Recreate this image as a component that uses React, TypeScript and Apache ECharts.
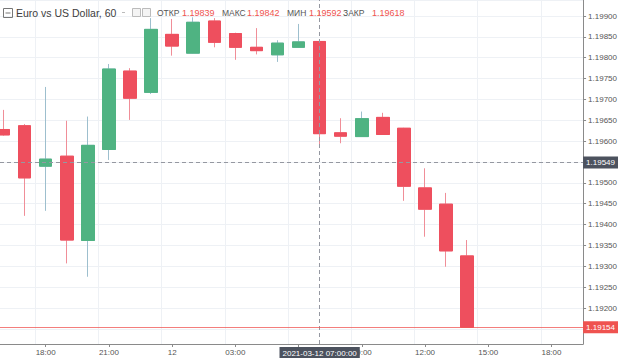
import React, { useEffect, useRef } from 'react';
import * as echarts from 'echarts';

// Hourly categories: 2021-03-11 16:00 … 2021-03-12 19:00
const times = [
  '16:00', '17:00', '18:00', '19:00', '20:00', '21:00', '22:00', '23:00',
  '00:00', '01:00', '02:00', '03:00', '04:00', '05:00', '06:00', '07:00',
  '08:00', '09:00', '10:00', '11:00', '12:00', '13:00', '14:00', '15:00',
  '16:00 ', '17:00 ', '18:00 ', '19:00 ',
];
const opens = [
  1.19628, 1.19637, 1.1954, 1.19564, 1.19362, 1.1958, 1.19768, 1.19717,
  1.19856, 1.19811, 1.19888, 1.19858, 1.19825, 1.19807, 1.19825, 1.19839,
  1.1962, 1.19611, 1.19657, 1.19631, 1.19488, 1.19449, 1.19325,
];
const closes = [
  1.19615, 1.19512, 1.19557, 1.19363, 1.1959, 1.19773, 1.19703, 1.19868,
  1.19828, 1.19885, 1.19837, 1.19825, 1.19817, 1.19835, 1.19838, 1.19618,
  1.19612, 1.19654, 1.19616, 1.19492, 1.19437, 1.19337, 1.19154,
];
const lows = [
  1.19613, 1.19421, 1.19433, 1.19307, 1.19275, 1.19555, 1.19651, 1.19713,
  1.19805, 1.1981, 1.19825, 1.19795, 1.19808, 1.1979, 1.19824, 1.19592,
  1.19595, 1.1961, 1.19615, 1.19457, 1.19371, 1.19299, 1.19154,
];
const highs = [
  1.19675, 1.19641, 1.1973, 1.19649, 1.19659, 1.19785, 1.19775, 1.19895,
  1.19893, 1.19897, 1.19895, 1.1986, 1.19871, 1.19842, 1.19881, 1.19842,
  1.19655, 1.19671, 1.19668, 1.19632, 1.19535, 1.19476, 1.19363,
];
const lastPrice = 1.19154;
const crosshairPrice = 1.19549;
const crosshairTime = '07:00';
const hiddenTickLabel = '06:00'; // covered by the crosshair time badge
const crosshairLabel = '2021-03-12 07:00:00';
const legendTitle = 'Euro vs US Dollar, 60';
const legendLabels = ['ОТКР', 'МАКС', 'МИН', 'ЗАКР'];
const legendValues = ['1.19839', '1.19842', '1.19592', '1.19618'];
const yMin = 1.191138;
const yMax = 1.199384;

const UP = '#4fb382';
const DOWN = '#ee4f5e';
const UP_WICK = '#9dbfce';
const DOWN_WICK = '#f08e98';
const GRID = '#eef1f5';
const LAST_RED = '#ef5350';
const FONT = '"Liberation Sans", Arial, sans-serif';
const SHIFT = 7; // chart canvas starts 7px left of the page edge

export default function App() {
  const ref = useRef<HTMLDivElement>(null);
  useEffect(() => {
    if (!ref.current) return;
    const chart = echarts.init(ref.current, undefined, { renderer: 'svg' });
    const full = opens.map((o, i) => [o, closes[i], lows[i], highs[i]]);
    const bodies = opens.map((o, i) => [o, closes[i], Math.min(o, closes[i]), Math.max(o, closes[i])]);
    const legendX = [157, 222, 287, 343];
    const valueX = [182, 247, 309, 372];
    const graphics: any[] = [
      { type: 'rect', shape: { x: 3.5 + SHIFT, y: 8.5, width: 9, height: 9 }, style: { fill: 'none', stroke: '#777', lineWidth: 1 }, z: 100 },
      { type: 'line', shape: { x1: 5.5 + SHIFT, y1: 13, x2: 10.5 + SHIFT, y2: 13 }, style: { stroke: '#777', lineWidth: 1 }, z: 100 },
      { type: 'text', x: 16 + SHIFT, y: 13, style: { text: legendTitle, fill: '#3d3d3d', font: `10.5px ${FONT}`, verticalAlign: 'middle' }, z: 100 },
      { type: 'line', shape: { x1: 122 + SHIFT, y1: 12.5, x2: 125 + SHIFT, y2: 12.5 }, style: { stroke: '#bbb', lineWidth: 1 }, z: 100 },
      { type: 'rect', shape: { x: 132.5 + SHIFT, y: 8.5, width: 8, height: 8 }, style: { fill: '#f4f4f4', stroke: '#bbb', lineWidth: 1 }, z: 100 },
      { type: 'rect', shape: { x: 142.5 + SHIFT, y: 8.5, width: 8, height: 8 }, style: { fill: '#f4f4f4', stroke: '#bbb', lineWidth: 1 }, z: 100 },
    ];
    legendLabels.forEach((t, i) => {
      graphics.push({ type: 'text', x: legendX[i] + SHIFT, y: 13, style: { text: t, fill: '#555', font: `8.5px ${FONT}`, verticalAlign: 'middle' }, z: 100 });
      graphics.push({ type: 'text', x: valueX[i] + SHIFT, y: 13, style: { text: legendValues[i], fill: '#ef5350', font: `9px ${FONT}`, verticalAlign: 'middle' }, z: 100 });
    });

    const onGrid = (idx: number) => parseInt(times[idx], 10) % 3 === 0;
    const showLabel = (idx: number) => onGrid(idx) && times[idx] !== hiddenTickLabel;
    // axis labels hidden underneath the price badges
    const underBadge = (v: number) =>
      Math.abs(v - lastPrice) < 0.0002 || Math.abs(v - crosshairPrice) < 0.0002;

    chart.setOption({
      animation: false,
      backgroundColor: '#ffffff',
      grid: { left: 0, right: 34, top: 0, bottom: 14, containLabel: false },
      xAxis: {
        type: 'category',
        data: times,
        boundaryGap: true,
        axisLine: { show: true, lineStyle: { color: '#8a8a8a', width: 1 } },
        axisTick: { show: true, alignWithLabel: true, interval: (i: number) => onGrid(i), length: 3, lineStyle: { color: '#8a8a8a' } },
        axisLabel: {
          interval: (i: number) => showLabel(i),
          formatter: (v: string) => (v === '00:00' ? '12' : v.trim()),
          color: '#555',
          fontSize: 8,
          fontFamily: FONT,
          margin: 4,
        },
        splitLine: { show: true, interval: (i: number) => onGrid(i), lineStyle: { color: GRID, width: 1 } },
      },
      yAxis: {
        type: 'value',
        position: 'right',
        min: yMin,
        max: yMax,
        minInterval: 0.0005,
        maxInterval: 0.0005,
        scale: true,
        axisLine: { show: true, lineStyle: { color: '#8a8a8a', width: 1 } },
        axisTick: { show: true, length: 3, lineStyle: { color: '#8a8a8a' } },
        axisLabel: {
          formatter: (v: number) => (underBadge(v) ? '' : v.toFixed(5)),
          color: '#555',
          fontSize: 8,
          fontFamily: FONT,
          margin: 5,
          showMinLabel: false,
          showMaxLabel: false,
        },
        splitLine: { show: true, lineStyle: { color: GRID, width: 1 } },
      },
      graphic: graphics,
      series: [
        {
          type: 'candlestick',
          data: full,
          barWidth: 13,
          itemStyle: { color: UP, color0: DOWN, borderColor: UP_WICK, borderColor0: DOWN_WICK, borderWidth: 1 },
          z: 3,
        },
        {
          type: 'candlestick',
          data: bodies,
          barWidth: 13,
          itemStyle: { color: UP, color0: DOWN, borderColor: UP, borderColor0: DOWN, borderWidth: 1 },
          z: 4,
          markLine: {
            symbol: ['none', 'none'],
            silent: true,
            animation: false,
            precision: 5,
            z: 10,
            data: [
              {
                yAxis: crosshairPrice,
                lineStyle: { color: '#9598a1', type: [4, 3], width: 1 },
                label: {
                  show: true, position: 'end', distance: 0, formatter: crosshairPrice.toFixed(5),
                  backgroundColor: '#4c525e', color: '#ffffff', fontSize: 8, fontFamily: FONT,
                  padding: [2, 3, 2, 3],
                },
              },
              {
                xAxis: crosshairTime,
                lineStyle: { color: '#9598a1', type: [4, 3], width: 1 },
                label: {
                  show: true, position: 'start', distance: 3, formatter: crosshairLabel,
                  backgroundColor: '#4c525e', color: '#ffffff', fontSize: 8, fontFamily: FONT,
                  padding: [2, 3, 1, 3],
                },
              },
            ],
          },
        },
      ],
    });

    // last-price line and badge, placed through the y axis scale
    const yPix = chart.convertToPixel({ yAxisIndex: 0 }, lastPrice) as number;
    const xRight = chart.convertToPixel({ xAxisIndex: 0 }, times[times.length - 1]) as number;
    const bandHalf = (xRight - (chart.convertToPixel({ xAxisIndex: 0 }, times[times.length - 2]) as number)) / 2;
    const gridRight = xRight + bandHalf;
    const yLine = Math.round(yPix) + 0.5;
    chart.setOption({
      graphic: [
        ...graphics,
        { type: 'line', shape: { x1: 0, y1: yLine, x2: gridRight, y2: yLine }, style: { stroke: LAST_RED, lineWidth: 1, opacity: 0.75 }, z: 50 },
        {
          type: 'text', x: gridRight, y: yPix, z: 60,
          style: {
            text: lastPrice.toFixed(5), fill: '#ffffff', font: `8px ${FONT}`, verticalAlign: 'middle',
            backgroundColor: LAST_RED, padding: [2, 3, 2, 3],
          },
        },
      ],
    });
    return () => chart.dispose();
  }, []);
  return (
    <div
      ref={ref}
      style={{ position: 'absolute', left: -SHIFT, top: 0, width: 620 + SHIFT, height: 358 }}
    />
  );
}
